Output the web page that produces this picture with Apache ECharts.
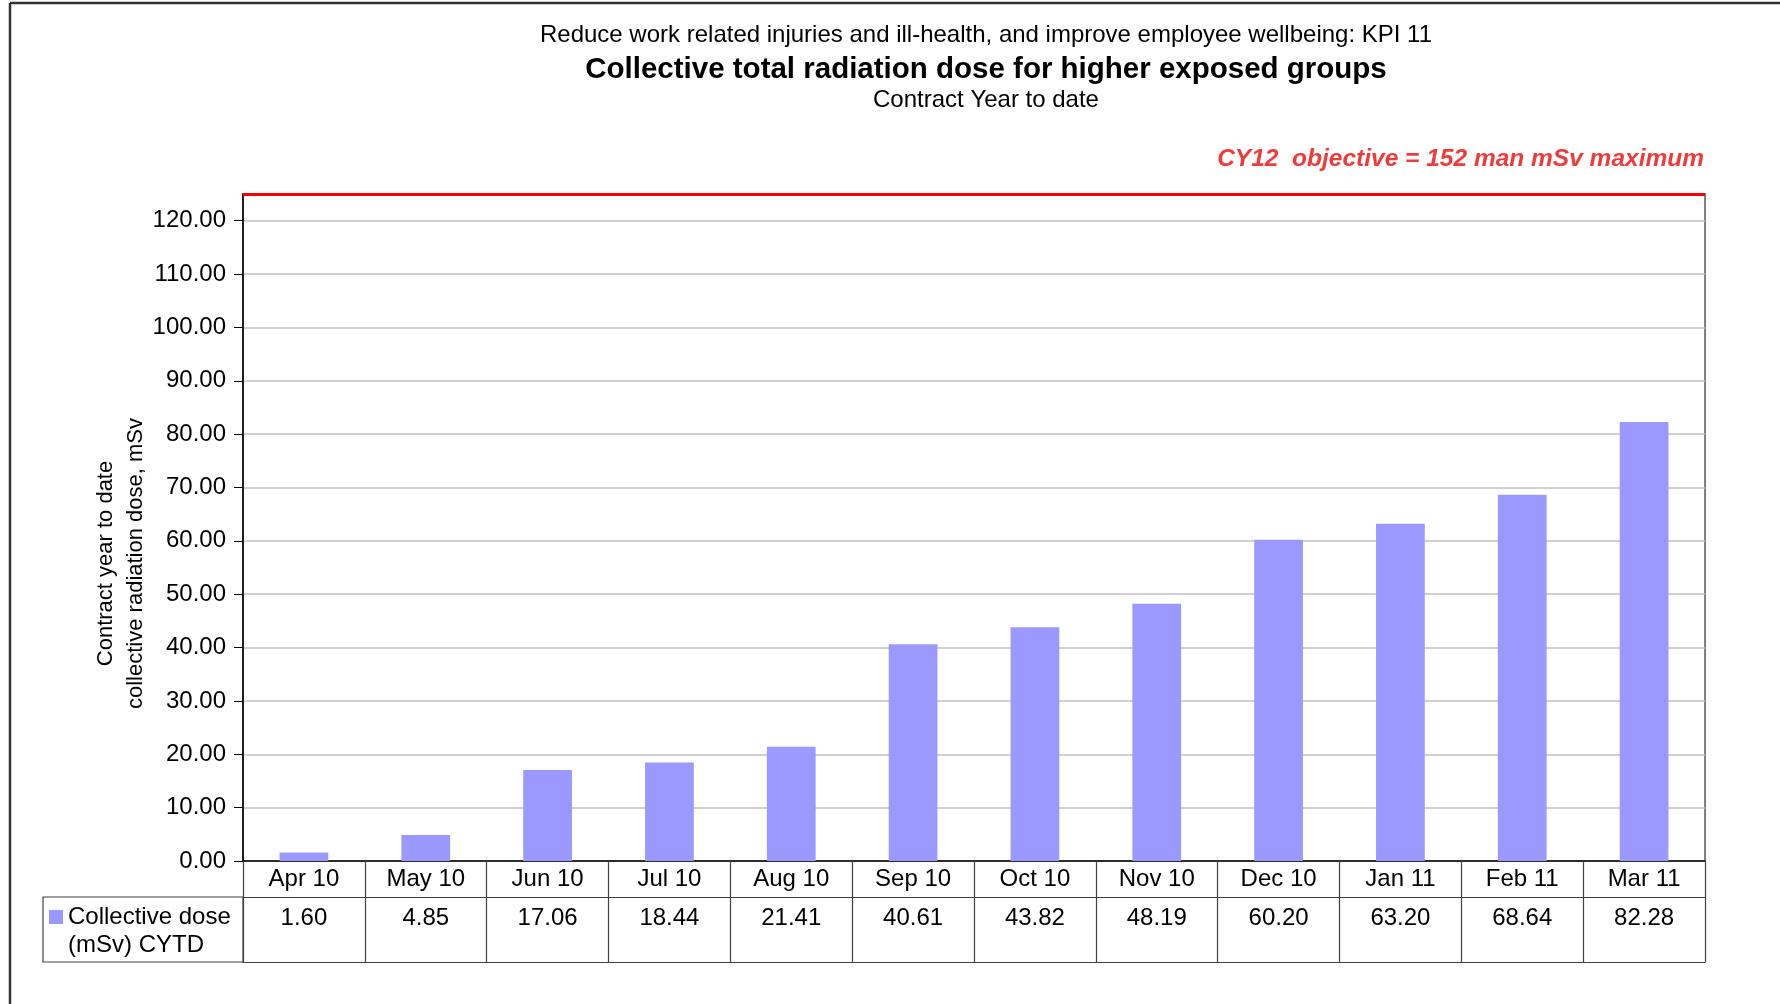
<!DOCTYPE html>
<html><head><meta charset="utf-8">
<script src="https://cdn.jsdelivr.net/npm/echarts@6/dist/echarts.min.js"></script>
<style>html,body{margin:0;padding:0;background:#fff}#c{width:1780px;height:1004px}</style>
</head><body><div id="c"></div>
<script>
const months = ['Apr 10','May 10','Jun 10','Jul 10','Aug 10','Sep 10','Oct 10','Nov 10','Dec 10','Jan 11','Feb 11','Mar 11'];
const doseValues = [1.60, 4.85, 17.06, 18.44, 21.41, 40.61, 43.82, 48.19, 60.20, 63.20, 68.64, 82.28];
const seriesName = 'Collective dose (mSv) CYTD';
const yMin = 0, yMax = 125, yStep = 10;
const objectiveText = 'CY12  objective = 152 man mSv maximum';

const F = 'Liberation Sans, Arial, sans-serif';
const chart = echarts.init(document.getElementById('c'), null, {renderer:'canvas'});
const tableLine = {color:'#404040', width:1.2};
chart.setOption({
  animation:false,
  backgroundColor:'#fff',
  title:[
    {text:'Reduce work related injuries and ill-health, and improve employee wellbeing: KPI 11', left:986, textAlign:'center', top:23, padding:0, textStyle:{fontFamily:F, fontSize:24, fontWeight:'normal', color:'#000'}},
    {text:'Collective total radiation dose for higher exposed groups', left:986, textAlign:'center', top:55, padding:0, textStyle:{fontFamily:F, fontSize:29.5, fontWeight:'bold', color:'#000'}},
    {text:'Contract Year to date', left:986, textAlign:'center', top:88, padding:0, textStyle:{fontFamily:F, fontSize:24, fontWeight:'normal', color:'#000'}},
    {text:objectiveText, right:76, top:147, padding:0, textStyle:{fontFamily:F, fontSize:24.5, fontWeight:'bold', fontStyle:'italic', color:'#EE3B3B'}}
  ],
  legend:{
    left:49, top:875, padding:0, itemWidth:14, itemHeight:14, icon:'rect', itemGap:0,
    formatter:()=> ' \nCollective dose\n(mSv) CYTD',
    textStyle:{fontFamily:F, fontSize:24, color:'#000', lineHeight:28}
  },
  grid:{left:243, right:75, top:194, bottom:143, show:true, borderColor:'#808080', borderWidth:2, containLabel:false},
  xAxis:[
    {type:'category', data:months, position:'bottom',
     axisLine:{lineStyle:{color:'#000', width:1.5}},
     axisTick:{show:true, length:101, lineStyle:tableLine},
     axisLabel:{fontFamily:F, fontSize:24, color:'#000', margin:6}},
    {type:'category', data:months, position:'bottom', offset:36,
     axisLine:{lineStyle:tableLine}, axisTick:{show:false},
     axisLabel:{fontFamily:F, fontSize:24, color:'#000', margin:9, formatter:(v,i)=>doseValues[i].toFixed(2)}},
    {type:'category', data:months, position:'bottom', offset:101,
     axisLine:{lineStyle:tableLine}, axisTick:{show:false}, axisLabel:{show:false}}
  ],
  yAxis:{
    type:'value', min:yMin, max:yMax, interval:yStep,
    name:'Contract year to date\ncollective radiation dose, mSv', nameLocation:'middle', nameRotate:90, nameGap:92, nameMoveOverlap:false,
    nameTextStyle:{fontFamily:F, fontSize:22, color:'#000', lineHeight:30, padding:[0,72,0,0]},
    axisLine:{show:true, lineStyle:{color:'#000', width:1.5}},
    axisTick:{show:true, length:9, lineStyle:{color:'#000'}},
    axisLabel:{fontFamily:F, fontSize:24, color:'#000', margin:17, showMaxLabel:false, formatter:v=>v.toFixed(2)},
    splitLine:{lineStyle:{color:'#C0C0C0', width:1.5}}
  },
  series:[{
    name:seriesName, type:'bar', data:doseValues, barWidth:'40%', xAxisIndex:0,
    itemStyle:{color:'#9999FF'},
    markLine:{silent:true, symbol:'none', label:{show:false}, lineStyle:{color:'#FF0000', width:3, type:'solid'}, data:[{yAxis:yMax}]}
  }],
  graphic:[
    {type:'rect', shape:{x:43, y:897, width:200, height:65}, style:{fill:'none', stroke:'#404040', lineWidth:1.2}, z:10},
    {type:'line', shape:{x1:10, y1:3, x2:1780, y2:3}, style:{stroke:'#333', lineWidth:2.5}},
    {type:'line', shape:{x1:10, y1:3, x2:10, y2:1004}, style:{stroke:'#333', lineWidth:2.5}}
  ]
});
</script></body></html>
